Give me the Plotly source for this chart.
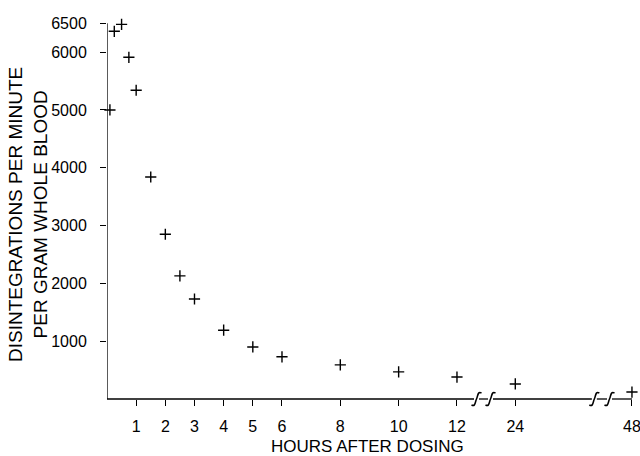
import plotly.graph_objects as go

# ---- data ----
hours = [0.1, 0.25, 0.5, 0.75, 1, 1.5, 2, 2.5, 3, 4, 5, 6, 8, 10, 12, 24, 48]
dpm = [5000, 6360, 6480, 5910, 5340, 3840, 2850, 2130, 1730, 1190, 900, 730, 590, 470, 380, 260, 120]
x_tick_hours = [1, 2, 3, 4, 5, 6, 8, 10, 12, 24, 48]
y_tick_vals = [1000, 2000, 3000, 4000, 5000, 6000, 6500]

# broken axis: hours beyond 12 are drawn at compressed positions
BREAK_POS = {24: 14.0, 48: 18.0}


def axis_x(h):
    return BREAK_POS.get(h, h)


xs = [axis_x(h) for h in hours]
tick_pos = [axis_x(h) for h in x_tick_hours]

W, H = 640, 456
ML, MR, MT, MB = 107, 6, 18, 57
PW, PH = W - ML - MR, H - MT - MB
XR = [0, 18.07]
YR = [0, 6590]
px_per_x = PW / (XR[1] - XR[0])
px_per_y_paper = 1.0 / PH

FONT = "Liberation Sans, Arial, Helvetica, sans-serif"

fig = go.Figure()
fig.add_trace(go.Scatter(
    x=xs, y=dpm, mode="markers",
    marker=dict(symbol="cross-thin", size=8, line=dict(color="black", width=1.4), color="black"),
    cliponaxis=False, showlegend=False, hoverinfo="skip",
))

shapes = []
# y axis line up to 6500
shapes.append(dict(type="line", xref="x", yref="y", x0=0, x1=0, y0=0, y1=6500,
                   line=dict(color="black", width=1.3), layer="above"))

# x axis line with break marks
breaks = [12.67, 13.15, 16.71, 17.23]
gap = 2.5 / px_per_x
segs = []
start = 0
for b in breaks:
    segs.append((start, b - gap))
    start = b + gap
segs.append((start, 18.0))
for a, b in segs:
    shapes.append(dict(type="line", xref="x", yref="paper", x0=a, x1=b, y0=0, y1=0,
                       line=dict(color="black", width=1.3), layer="above"))


def squiggle(cx):
    def P(dx, dy):
        return f"{cx + dx / px_per_x:.4f},{dy * px_per_y_paper:.5f}"
    return (f"M{P(-5, -6)} C{P(-1, -8)} {P(-1.5, -3)} {P(0, 0)} "
            f"C{P(1.5, 3)} {P(1, 8)} {P(5, 6)}")


for b in breaks:
    shapes.append(dict(type="path", xref="x", yref="paper", path=squiggle(b),
                       line=dict(color="black", width=1.6), layer="above"))

annotations = [
    dict(text="HOURS AFTER DOSING", xref="paper", yref="paper",
         x=(367.5 - ML) / PW, y=(H - MB - 446) / PH, xanchor="center", yanchor="middle",
         showarrow=False, font=dict(family=FONT, size=17, color="black")),
    dict(text="DISINTEGRATIONS PER MINUTE<br>PER GRAM WHOLE BLOOD", xref="paper", yref="paper",
         x=(27.5 - ML) / PW, y=(H - MB - 214.5) / PH, xanchor="center", yanchor="middle",
         textangle=-90, showarrow=False, font=dict(family=FONT, size=19, color="black")),
]

fig.update_layout(
    width=W, height=H,
    margin=dict(l=ML, r=MR, t=MT, b=MB, pad=0),
    paper_bgcolor="white", plot_bgcolor="white",
    font=dict(family=FONT, size=16, color="black"),
    shapes=shapes, annotations=annotations,
    xaxis=dict(range=XR, tickmode="array", tickvals=tick_pos,
               ticktext=[str(h) for h in x_tick_hours],
               ticks="outside", ticklen=6, tickwidth=1, tickcolor="black",
               showline=False, showgrid=False, zeroline=False, automargin=False,
               ticklabelstandoff=7, ticklabeloverflow="allow", tickfont=dict(size=16)),
    yaxis=dict(range=YR, tickmode="array", tickvals=y_tick_vals,
               ticktext=[str(v) for v in y_tick_vals],
               ticks="outside", ticklen=6, tickwidth=1, tickcolor="black",
               showline=False, showgrid=False, zeroline=False, automargin=False,
               ticklabelstandoff=10, tickfont=dict(size=16)),
)

fig.write_html("out.html", config={"displayModeBar": False},
               post_script="document.body.style.margin='0';document.body.style.overflow='hidden';")
